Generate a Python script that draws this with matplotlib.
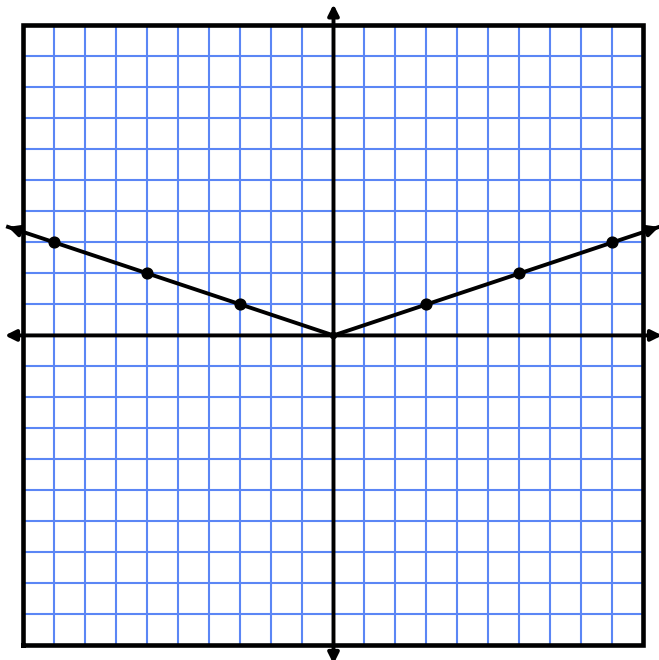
import numpy as np
import matplotlib.pyplot as plt

# grid range and the plotted points of y = |x|/3
grid_ticks = list(range(-10, 11))
point_x = [-9, -6, -3, 3, 6, 9]
point_y = [3, 2, 1, 1, 2, 3]
line_x = [-10.5, 0, 10.5]
line_y = [3.5, 0, 3.5]

fig = plt.figure(figsize=(6.59, 6.60), dpi=100)
ax = fig.add_axes([0, 0, 1, 1])
ax.set_xlim(-10.758, 10.5)
ax.set_ylim(-10.47, 10.82)
ax.axis('off')

blue = '#5b86f5'
ax.vlines(grid_ticks, -10, 10, color=blue, lw=1.5, zorder=1)
ax.hlines(grid_ticks, -10, 10, color=blue, lw=1.5, zorder=1)

# outer box
ax.plot([-10, 10, 10, -10, -10], [-10, -10, 10, 10, -10], color='black', lw=3.3,
        solid_joinstyle='miter', zorder=2)

# axes with arrows
arrow = dict(arrowstyle='<|-|>', color='black', lw=2.8, mutation_scale=16,
             shrinkA=0, shrinkB=0)
ax.annotate('', xy=(-10.6, 0), xytext=(10.6, 0), arrowprops=arrow, zorder=3)
ax.annotate('', xy=(0, 10.68), xytext=(0, -10.6), arrowprops=arrow, zorder=3)

# the graph
ax.plot(line_x[1:], line_y[1:], color='black', lw=2.8, zorder=4)
ax.plot(line_x[:2], line_y[:2], color='black', lw=2.8, zorder=4)
ax.annotate('', xy=(line_x[0], line_y[0]), xytext=(line_x[0] + 0.3, line_y[0] - 0.1),
            arrowprops=dict(arrowstyle='-|>', color='black', lw=2.8, mutation_scale=16,
                            shrinkA=0, shrinkB=0), zorder=4)
ax.annotate('', xy=(line_x[2], line_y[2]), xytext=(line_x[2] - 0.3, line_y[2] - 0.1),
            arrowprops=dict(arrowstyle='-|>', color='black', lw=2.8, mutation_scale=16,
                            shrinkA=0, shrinkB=0), zorder=4)
ax.scatter(point_x, point_y, s=60, color='black', zorder=5)
ax.scatter([0], [0], s=20, color='black', zorder=5)

fig.savefig('out.png', dpi=100)
